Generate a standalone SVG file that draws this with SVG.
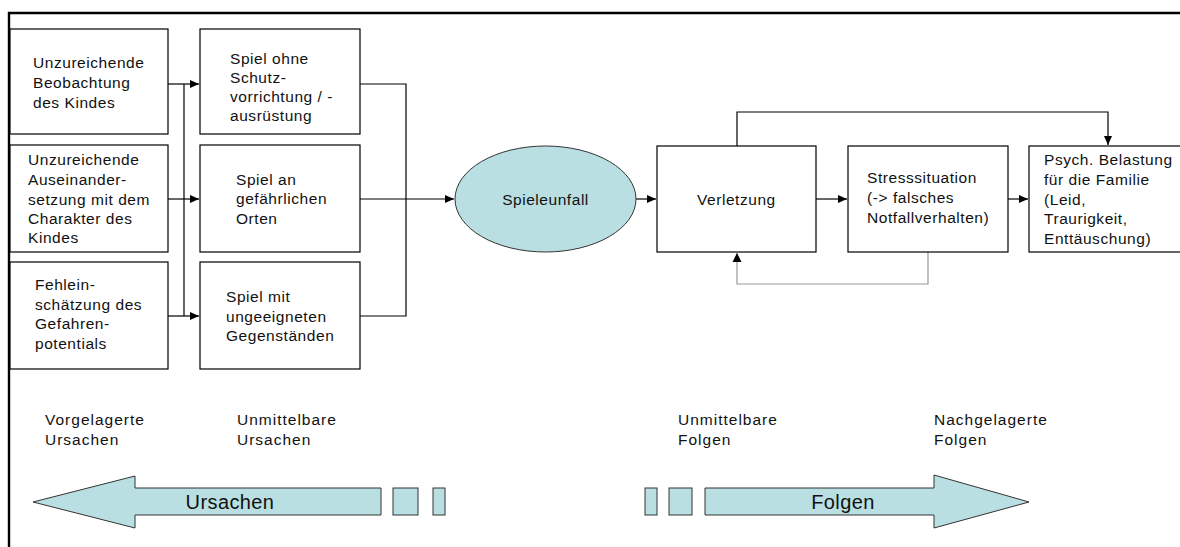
<svg xmlns="http://www.w3.org/2000/svg" width="1180" height="547" viewBox="0 0 1180 547">
  <defs>
    <marker id="arrow" markerWidth="10" markerHeight="10" refX="9" refY="5" orient="auto" markerUnits="userSpaceOnUse">
      <path d="M0,1 L9,5 L0,9 Z" fill="#000"/>
    </marker>
  </defs>
  <style>
    text { font-family: "Liberation Sans", Arial, sans-serif; font-size: 15.5px; fill: #111; letter-spacing: 0.55px; }
    .box { fill: #fff; stroke: #000; stroke-width: 1.2; }
    .teal { fill: #b9dfe3; stroke: #333; stroke-width: 1; }
    .line { fill: none; stroke: #000; stroke-width: 1.2; }
    .grey { fill: none; stroke: #999; stroke-width: 1.2; }
    .big { font-size: 20px; letter-spacing: 0.4px; }
    .lbl { font-size: 15.5px; letter-spacing: 1px; }
  </style>

  <rect width="1180" height="547" fill="#fff"/>
  <!-- outer frame -->
  <path d="M9,547 V13 H1180" fill="none" stroke="#000" stroke-width="2.4"/>

  <!-- connectors -->
  <g id="connectors">
    <path class="line" d="M168,84 H199" marker-end="url(#arrow)"/>
    <path class="line" d="M168,199 H199" marker-end="url(#arrow)"/>
    <path class="line" d="M168,316 H199" marker-end="url(#arrow)"/>
    <path class="line" d="M184,84 V316"/>
    <path class="line" d="M360,84 H406 V316 H360"/>
    <path class="line" d="M360,199 H454" marker-end="url(#arrow)"/>
    <path class="line" d="M636,199 H656" marker-end="url(#arrow)"/>
    <path class="line" d="M816,199 H847" marker-end="url(#arrow)"/>
    <path class="line" d="M1008,199 H1028" marker-end="url(#arrow)"/>
    <path class="line" d="M737,146 V112 H1108 V145" marker-end="url(#arrow)"/>
    <path class="grey" d="M928,252 V284 H737 V253"/>
    <path d="M732.5,262 L737,253 L741.5,262 Z" fill="#000"/>
  </g>

  <!-- underlying causes -->
  <g id="n-beobachtung">
    <rect class="box" x="10" y="29" width="158" height="105"/>
    <text x="33" y="68">Unzureichende</text>
    <text x="33" y="88">Beobachtung</text>
    <text x="33" y="108">des Kindes</text>
  </g>
  <g id="n-charakter">
    <rect class="box" x="10" y="145" width="158" height="107"/>
    <text x="28" y="165">Unzureichende</text>
    <text x="28" y="185">Auseinander-</text>
    <text x="28" y="205">setzung mit dem</text>
    <text x="28" y="224">Charakter des</text>
    <text x="28" y="243">Kindes</text>
  </g>
  <g id="n-fehleinschaetzung">
    <rect class="box" x="10" y="262" width="158" height="107"/>
    <text x="35" y="290">Fehlein-</text>
    <text x="35" y="310">schätzung des</text>
    <text x="35" y="329">Gefahren-</text>
    <text x="35" y="349">potentials</text>
  </g>

  <!-- immediate causes -->
  <g id="n-schutz">
    <rect class="box" x="200" y="29" width="160" height="105"/>
    <text x="230" y="64">Spiel ohne</text>
    <text x="230" y="83">Schutz-</text>
    <text x="230" y="102">vorrichtung / -</text>
    <text x="230" y="121">ausrüstung</text>
  </g>
  <g id="n-orte">
    <rect class="box" x="200" y="145" width="160" height="107"/>
    <text x="236" y="185">Spiel an</text>
    <text x="236" y="204">gefährlichen</text>
    <text x="236" y="224">Orten</text>
  </g>
  <g id="n-gegenstaende">
    <rect class="box" x="200" y="262" width="160" height="107"/>
    <text x="226" y="302">Spiel mit</text>
    <text x="226" y="322">ungeeigneten</text>
    <text x="226" y="341">Gegenständen</text>
  </g>

  <!-- central event -->
  <g id="n-spieleunfall">
    <ellipse class="teal" cx="545.5" cy="199" rx="90.5" ry="53"/>
    <text x="545.5" y="205" text-anchor="middle">Spieleunfall</text>
  </g>

  <!-- consequences -->
  <g id="n-verletzung">
    <rect class="box" x="657" y="146" width="159" height="106"/>
    <text x="697" y="205">Verletzung</text>
  </g>
  <g id="n-stress">
    <rect class="box" x="848" y="146" width="160" height="106"/>
    <text x="867" y="183">Stresssituation</text>
    <text x="867" y="203">(-&gt; falsches</text>
    <text x="867" y="223">Notfallverhalten)</text>
  </g>
  <g id="n-belastung">
    <rect class="box" x="1029" y="146" width="160" height="106"/>
    <text x="1044" y="165">Psych. Belastung</text>
    <text x="1044" y="185">für die Familie</text>
    <text x="1044" y="205">(Leid,</text>
    <text x="1044" y="224">Traurigkeit,</text>
    <text x="1044" y="244">Enttäuschung)</text>
  </g>

  <!-- phase labels -->
  <g id="labels">
    <text class="lbl" x="45" y="425">Vorgelagerte</text>
    <text class="lbl" x="45" y="445">Ursachen</text>
    <text class="lbl" x="237" y="425">Unmittelbare</text>
    <text class="lbl" x="237" y="445">Ursachen</text>
    <text class="lbl" x="678" y="425">Unmittelbare</text>
    <text class="lbl" x="678" y="445">Folgen</text>
    <text class="lbl" x="934" y="425">Nachgelagerte</text>
    <text class="lbl" x="934" y="445">Folgen</text>
  </g>

  <!-- cause / consequence arrows -->
  <g id="arrow-ursachen">
    <path class="teal" d="M381,488 H135 V476 L33,502 L135,528 V515 H381 Z"/>
    <rect class="teal" x="393" y="488" width="25" height="27"/>
    <rect class="teal" x="433" y="488" width="12" height="27"/>
    <text class="big" x="230" y="509" text-anchor="middle">Ursachen</text>
  </g>
  <g id="arrow-folgen">
    <rect class="teal" x="645" y="488" width="12" height="27"/>
    <rect class="teal" x="669" y="488" width="23" height="27"/>
    <path class="teal" d="M705,488 H934 V475 L1029,502 L934,528 V515 H705 Z"/>
    <text class="big" x="843" y="509" text-anchor="middle">Folgen</text>
  </g>
</svg>
